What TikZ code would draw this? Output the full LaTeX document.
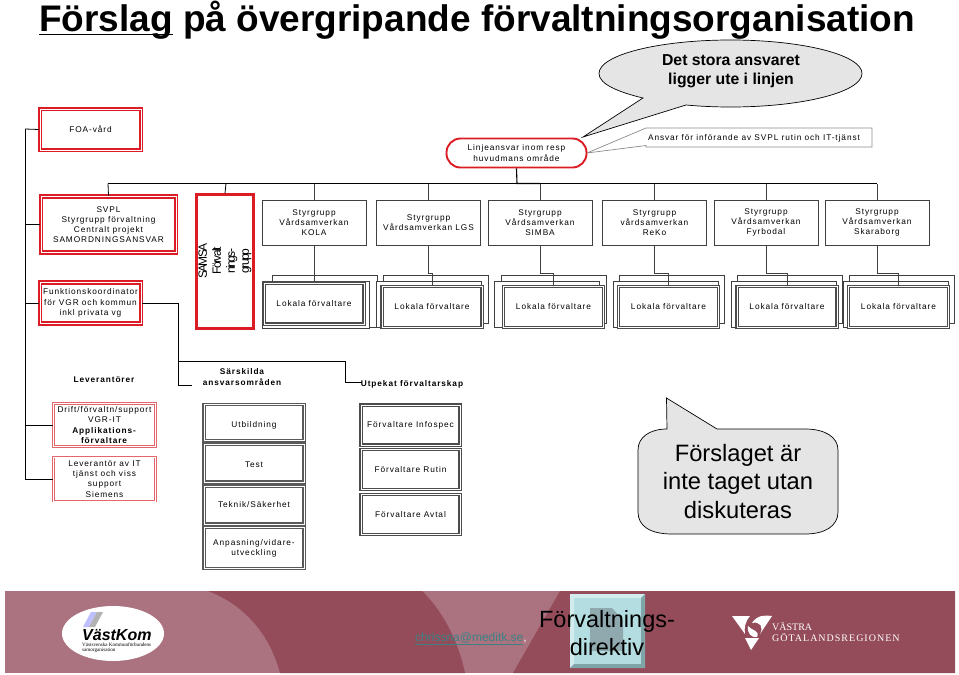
\documentclass[tikz,border=0pt]{standalone}
\usepackage{fontspec}
\setmainfont{Liberation Sans}
\newfontfamily\spaced[LetterSpace=11]{Liberation Sans}
\newfontfamily\squeezed[LetterSpace=-13]{Liberation Sans}
\newfontfamily\logoserif{Liberation Serif}
\usepackage{xcolor}
\definecolor{boxred}{HTML}{DC1C24}
\definecolor{softred}{HTML}{E2666C}
\definecolor{bandlight}{HTML}{AB727F}
\definecolor{banddark}{HTML}{954C5A}
\definecolor{teallink}{HTML}{3A8284}
\definecolor{btnface}{HTML}{B4DDE1}
\definecolor{btntop}{HTML}{D2ECEE}
\definecolor{btnside}{HTML}{7FA5A8}
\definecolor{btnpage}{HTML}{8FA9AE}
\newcommand{\lab}{\spaced\fontsize{8.3}{10.2}\selectfont}
\newcommand{\ulbox}[1]{\leavevmode\setbox0\hbox{#1}\rlap{\rule[-3.8pt]{\wd0}{1.3pt}}\box0\relax}
\usetikzlibrary{calc}
\usetikzlibrary{positioning}
\tikzset{
  plain/.style={draw=black!75, line width=.8pt, fill=white, inner sep=0pt, align=center, font=\lab},
  redbox/.style={draw=boxred, line width=1.8pt, double=white, double distance=.7pt, fill=white, inner sep=0pt, align=center, font=\lab},
  softbox/.style={draw=softred, line width=1pt, double=white, double distance=.8pt, fill=white, inner sep=0pt, align=center, font=\lab},
  stackbox/.style={draw=black!70, line width=1.1pt, double=white, double distance=.9pt, fill=white, inner sep=0pt, align=center, font=\lab},
  thickstack/.style={draw=black!65, line width=1.3pt, double=white, double distance=1pt, fill=white, inner sep=0pt, align=center, font=\lab},
  wire/.style={draw=black, line width=.8pt},
  heading/.style={font=\lab\bfseries, align=center, inner sep=0pt},
  callout/.style={draw=black, line width=.7pt, fill=black!10}
}
\begin{document}
\begin{tikzpicture}[x=1pt, y=-1pt]
  \useasboundingbox (0,0) rectangle (959,675);

  % title
  \node (title) [anchor=base west, inner sep=0pt, font=\bfseries\fontsize{37}{40}\selectfont] at (39,31) {\ulbox{Förslag} på övergripande förvaltningsorganisation};

  % footer band
  \fill [bandlight] (5,591) rectangle (955,673);
  \fill [banddark] (208,591) .. controls (245,605) and (270,635) .. (280,673)
    -- (465,673) .. controls (458,640) and (442,610) .. (422,591) -- cycle;
  \fill [banddark] (560,591) -- (955,591) -- (955,673) -- (513,673) -- cycle;
  \fill [white] (113,633.5) ellipse [x radius=51, y radius=27.5];
  \fill [blue!25!white] (83,627) -- (91,612) -- (97,612) -- (89,627) -- cycle;
  \fill [black!30] (89,627) -- (97,612) -- (103,612) -- (95,627) -- cycle;
  \node (vastkom) [anchor=base west, inner sep=0pt, font=\bfseries\itshape\fontsize{16}{16}\selectfont] at (82,640) {VästKom};
  \node (vastsub) [anchor=north west, inner sep=0pt, align=left, font=\logoserif\fontsize{5.1}{4.8}\selectfont] at (82,642.5) {Västsvenska Kommunförbundens\\samorganisation};
  \node (mail) [anchor=base west, inner sep=0pt, text=teallink, font=\fontsize{12}{12}\selectfont] at (415,641) {\underline{chrissna@meditk.se}\textcolor{white}{,}};
  % the square button
  \fill [btnface] (570,594) rectangle (645,668);
  \fill [btntop] (570,594) -- (645,594) -- (641,598) -- (574,598) -- (574,664) -- (570,668) -- cycle;
  \fill [btnside] (645,594) -- (645,668) -- (570,668) -- (574,664) -- (641,664) -- (641,598) -- cycle;
  \fill [btnpage] (590,608) -- (612,608) -- (623,620) -- (623,651) -- (590,651) -- cycle;
  \node (direktiv) [inner sep=0pt, align=center, font=\fontsize{23.5}{28}\selectfont] at (607,633.5) {Förvaltnings-\\direktiv};
  % the right logo
  \fill [white] (732,616) -- (750,616) .. controls (745,622) and (744,628) .. (745,634) -- cycle;
  \fill [white] (745,638) -- (759,638) -- (751,650) -- cycle;
  \fill [white] (772,616) -- (760,634) .. controls (764,627) and (760,621) .. (752,623) .. controls (757,615) and (765,615) .. (772,616) -- cycle;
  \fill [white] (748,626) .. controls (752,631) and (760,630) .. (757,637) .. controls (751,638) and (747,633) .. (748,626) -- cycle;
  \node (vastra) [anchor=base west, inner sep=0pt, text=white, font=\logoserif\fontsize{10}{10}\selectfont] at (772,630) {VÄSTRA};
  \node (gotaland) [anchor=base west, inner sep=0pt, text=white, font=\logoserif\fontsize{10}{10}\selectfont] at (772,641) {\addfontfeature{LetterSpace=10}GÖTALANDSREGIONEN};

  % connectors behind the boxes
  \coordinate (spine) at (25,129);
  \coordinate (busl) at (108,183.5);
  \coordinate (busr) at (877,183.5);
  \draw [wire] (spine) -- (25,479);
  \draw [wire] (busl) -- (busr);

  % callouts
  \draw [callout] (599,73.5) .. controls (599,55) and (658,40) .. (730.5,40)
    .. controls (803,40) and (862,55) .. (862,73.5)
    .. controls (862,92) and (803,107) .. (730.5,107)
    .. controls (715,107) and (700,106.3) .. (686,105)
    -- (583,137) -- (643,98) .. controls (618,92) and (599,84) .. (599,73.5) -- cycle;
  \node (stora) [inner sep=0pt, align=center, font=\bfseries\fontsize{15.8}{19}\selectfont] at (731,71.5) {Det stora ansvaret\\ligger ute i linjen};
  \draw [callout] (667,429) -- (666.5,398) -- (717,429) -- (805,429)
    .. controls (825,429) and (838,437) .. (838,450) -- (838,512)
    .. controls (838,526) and (825,534) .. (805,534) -- (672,534)
    .. controls (650,534) and (638,526) .. (638,512) -- (638,450)
    .. controls (638,437) and (650,429) .. (667,429) -- cycle;
  \node (forslaget) [inner sep=0pt, align=center, font=\fontsize{23.7}{28.6}\selectfont] at (738,481.5) {Förslaget är\\inte taget utan\\diskuteras};
  \draw [draw=black!45, line width=.7pt, fill=white] (587,153) -- (646,128) -- (872,128) -- (872,147) -- (646,147) -- (646,145.5) -- cycle;
  \node (ansvar) [inner sep=0pt, font=\lab] at (754,138) {Ansvar för införande av SVPL rutin och IT-tjänst};

  % upper left boxes
  \node (foa) [redbox, minimum width=101pt, minimum height=41pt] at (90.5,129.5) {FOA-vård};
  \node (svpl) [redbox, minimum width=135pt, minimum height=56pt] at (108.5,224.5) {SVPL\\Styrgrupp förvaltning\\Centralt projekt\\SAMORDNINGSANSVAR};
  \node (samsa) [draw=boxred, line width=2.2pt, fill=white, inner sep=0pt, minimum width=57pt, minimum height=134pt] at (225,261.5) {};
  \node (samsatext) [rotate=90, inner sep=0pt, align=center, font=\squeezed\fontsize{12}{14}\selectfont] at (225,261) {SAMSA\\Förvalt\\nings-\\grupp};
  \node (funk) [redbox, minimum width=101pt, minimum height=41pt] at (90.5,303) {Funktionskoordinator\\för VGR och kommun\\inkl privata vg};
  \node (linje) [draw=boxred, line width=1.9pt, fill=white, rounded corners=14pt, minimum width=140pt, minimum height=29pt, inner sep=0pt, align=center, font=\lab] at (516.5,153) {Linjeansvar inom resp\\huvudmans område};

  % styrgrupper and lokala
  \foreach \name/\xs/\txt in {kola/314/{Styrgrupp\\Vårdsamverkan\\KOLA},
      lgs/428.5/{Styrgrupp\\Vårdsamverkan LGS},
      simba/540/{Styrgrupp\\Vårdsamverkan\\SIMBA},
      reko/654.5/{Styrgrupp\\vårdsamverkan\\ReKo},
      fyrbodal/766/{Styrgrupp\\Vårdsamverkan\\Fyrbodal},
      skaraborg/877/{Styrgrupp\\Vårdsamverkan\\Skaraborg}} {
    \node (\name) [plain, minimum width=104pt, minimum height=45pt] at (\xs,222.5) {\txt};
    \draw [wire, draw=black!75] (\name.north) -- (\xs,183.5);
  }
  % kola sits a little higher than the rest
  \node (kolaback) [plain, minimum width=105pt, minimum height=52pt] at (324.5,301) {};
  \node (kolamid) [plain, minimum width=107pt, minimum height=47pt] at (315.5,305) {};
  \node (kolamain) [stackbox, minimum width=100pt, minimum height=41pt] at (314,303.5) {Lokala förvaltare};
  \draw [wire, draw=black!75] (kola.south) -- (kolamid.north -| kola.south);
  \foreach \name/\xm/\xb/\xf in {lgs/432/435.5/428.5,
      simba/553.5/554/546.5,
      reko/668.5/672/665.5,
      fyrbodal/787/790/784,
      skaraborg/898.5/901.5/895.5} {
    \node (\name back) [plain, minimum width=105pt, minimum height=48pt] at (\xb,299) {};
    \node (\name mid) [plain, minimum width=105pt, minimum height=46pt] at (\xf,304) {};
    \node (\name main) [stackbox, minimum width=100pt, minimum height=41pt] at (\xm,307) {Lokala förvaltare};
    \draw [wire, draw=black!75] (\name.south) |- (\xm,273) -- (\name main.north);
  }

  % connectors of the lower row
  \coordinate (utpekat end) at (362,382);
  \coordinate (sarskilda end) at (192,385);
  \draw [wire] (funk.east) -- (178,303) -- (178,385) -- (sarskilda end);
  \draw [wire] (178,361) -- (345,361) -- (345,382) -- (utpekat end);
  \draw [wire] (spine) -- (foa.west);
  \draw [wire] (25,224.5) -- (svpl.west);
  \draw [wire] (25,303) -- (funk.west);
  \draw [wire] (svpl.north) -- (108,183.5);
  \draw [wire] (samsa.north) -- (226,183.5);
  \draw [wire, line width=1.1pt] (linje.south) -- (517,183.5) -- (540,183.5);

  % lower columns
  \node (leverantorer) [heading] at (104,380) {Leverantörer};
  \node (sarskilda) [heading] at (242,377) {Särskilda\\ansvarsområden};
  \node (utpekat) [heading] at (412,384) {Utpekat förvaltarskap};

  \node (drift) [softbox, minimum width=102pt, minimum height=43pt] at (104.5,425) {Drift/förvaltn/support\\VGR-IT\\\textbf{Applikations-}\\\textbf{förvaltare}};
  \node (lev) [softbox, minimum width=102pt, minimum height=44pt] at (104.5,479) {Leverantör av IT\\tjänst och viss\\support\\Siemens};
  \draw [wire] (25,425) -- (drift.west);
  \draw [wire] (25,479) -- (lev.west);

  \node (utb) [thickstack, minimum width=100pt, minimum height=36pt, text height=11pt] at (254,422.5) {Utbildning};
  \node (test) [thickstack, minimum width=100pt, minimum height=38pt, text height=9pt] at (254,463) {Test};
  \node (teknik) [thickstack, minimum width=100pt, minimum height=38pt] at (254,505) {Teknik/Säkerhet};
  \node (anpas) [thickstack, minimum width=100pt, minimum height=41pt] at (254,548) {Anpasning/vidare-\\utveckling};

  \node (infospec) [stackbox, minimum width=99pt, minimum height=40pt] at (410.5,425) {Förvaltare Infospec};
  \node (rutin) [stackbox, minimum width=99pt, minimum height=40pt] at (410.5,469.5) {Förvaltare Rutin};
  \node (avtal) [stackbox, minimum width=99pt, minimum height=40pt] at (410.5,514.5) {Förvaltare Avtal};
\end{tikzpicture}
\end{document}
